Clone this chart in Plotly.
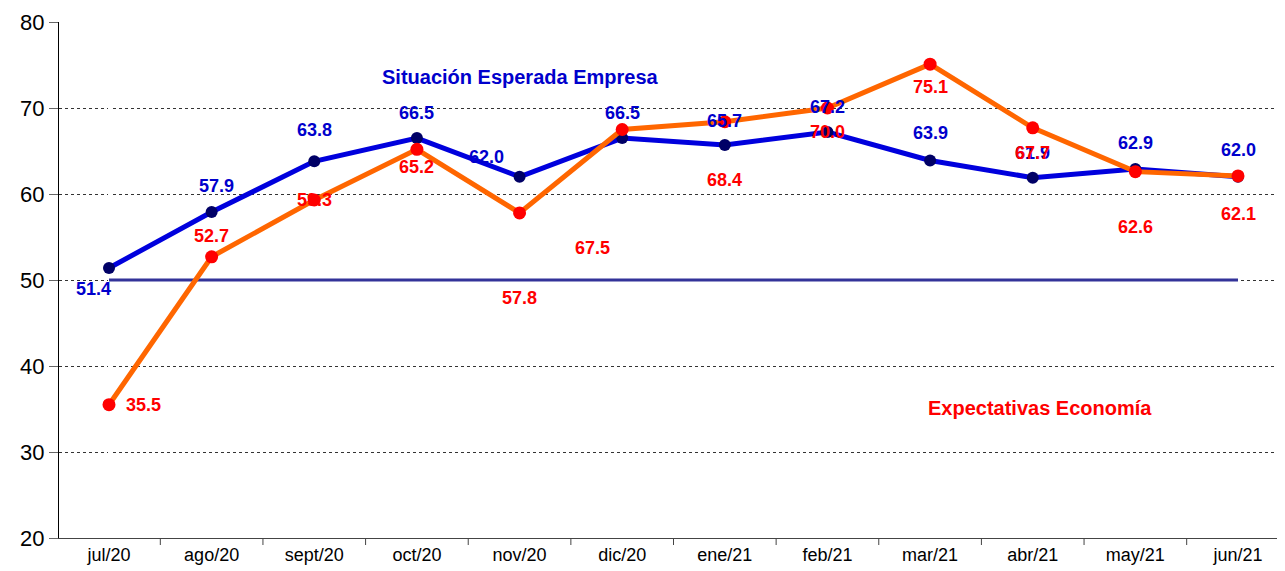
import plotly.graph_objects as go

months = ["jul/20", "ago/20", "sept/20", "oct/20", "nov/20", "dic/20",
          "ene/21", "feb/21", "mar/21", "abr/21", "may/21", "jun/21"]
empresa = [51.4, 57.9, 63.8, 66.5, 62.0, 66.5, 65.7, 67.2, 63.9, 61.9, 62.9, 62.0]
economia = [35.5, 52.7, 59.3, 65.2, 57.8, 67.5, 68.4, 70.0, 75.1, 67.7, 62.6, 62.1]
baseline = [50, 50, 50, 50, 50, 50, 50, 50, 50, 50, 50, 50]

# label offsets in pixels (xshift, yshift)
emp_shift = [(-16, -21), (5, 26), (0, 31), (0, 25), (-33, 20), (0, 25),
             (0, 24), (0, 25), (0, 27), (0, 25), (0, 26), (0, 27)]
eco_shift = [(34, 0), (0, 21), (0, 0), (0, -18), (0, -85), (-30, -118),
             (0, -58), (0, -24), (0, -23), (0, -25), (0, -55), (0, -38)]

fig = go.Figure()
fig.add_trace(go.Scatter(x=list(range(12)), y=baseline, mode="lines",
                         line=dict(color="#333399", width=3), hoverinfo="skip"))
fig.add_trace(go.Scatter(x=list(range(12)), y=empresa, mode="lines+markers",
                         line=dict(color="#0000DD", width=5),
                         marker=dict(color="#000066", size=12)))
fig.add_trace(go.Scatter(x=list(range(12)), y=economia, mode="lines+markers",
                         line=dict(color="#FF6600", width=5),
                         marker=dict(color="#FF0000", size=13)))

font_lbl = "Liberation Sans, Arial, sans-serif"
for i, (v, (dx, dy)) in enumerate(zip(empresa, emp_shift)):
    fig.add_annotation(x=i, y=v, text=f"{v:.1f}", showarrow=False,
                       xshift=dx, yshift=dy,
                       font=dict(family=font_lbl, size=18, color="#0000CC", weight="bold"))
for i, (v, (dx, dy)) in enumerate(zip(economia, eco_shift)):
    fig.add_annotation(x=i, y=v, text=f"{v:.1f}", showarrow=False,
                       xshift=dx, yshift=dy,
                       font=dict(family=font_lbl, size=18, color="#FF0000", weight="bold"))

# screen geometry (page body has 8px margin)
OFF = 8
SL, ST, SB = 59, 22, 538          # plot left, top, bottom in screen px
W, H = 1285 - OFF, 571 - OFF
L, T, B, R = SL - OFF, ST - OFF, 571 - SB, 0
pw, ph = W - L - R, H - T - B

def paper(sx, sy):
    return (sx - SL) / pw, 1 - (sy - ST) / ph

px, py = paper(520, 77)
fig.add_annotation(x=px, y=py, xref="paper", yref="paper", text="Situación Esperada Empresa",
                   showarrow=False, xanchor="center", yanchor="middle",
                   font=dict(family=font_lbl, size=20, color="#0000CC", weight="bold"))
px, py = paper(1040, 408)
fig.add_annotation(x=px, y=py, xref="paper", yref="paper", text="Expectativas Economía",
                   showarrow=False, xanchor="center", yanchor="middle",
                   font=dict(family=font_lbl, size=20, color="#FF0000", weight="bold"))

# x range chosen so jul/20 sits at screen x=109 and jun/21 at 1238
unit = (1238 - 109) / 11
r0 = -(109 - SL) / unit
r1 = r0 + pw / unit

fig.update_layout(
    width=W, height=H,
    margin=dict(l=L, r=R, t=T, b=B),
    plot_bgcolor="white", paper_bgcolor="white",
    showlegend=False,
    font=dict(family=font_lbl, color="black"),
    xaxis=dict(range=[r0, r1], showgrid=False, showline=True, linecolor="#444",
               linewidth=1, tickmode="array", tickvals=list(range(12)), ticktext=months,
               ticks="", tickfont=dict(size=18, color="black")),
    yaxis=dict(range=[20, 80], dtick=10, showgrid=True, gridcolor="#333",
               griddash="dot", gridwidth=1, showline=True, linecolor="black",
               linewidth=1, ticks="outside", ticklen=9, tickcolor="#666",
               zeroline=False, tickfont=dict(size=22, color="black")),
)
# category boundary ticks on x axis
for k in range(-1, 12):
    fig.add_shape(type="line", xref="x", yref="paper", x0=k + 0.5, x1=k + 0.5,
                  y0=0, y1=-7 / ph, line=dict(color="#444", width=1))
fig.write_html("out.html")
